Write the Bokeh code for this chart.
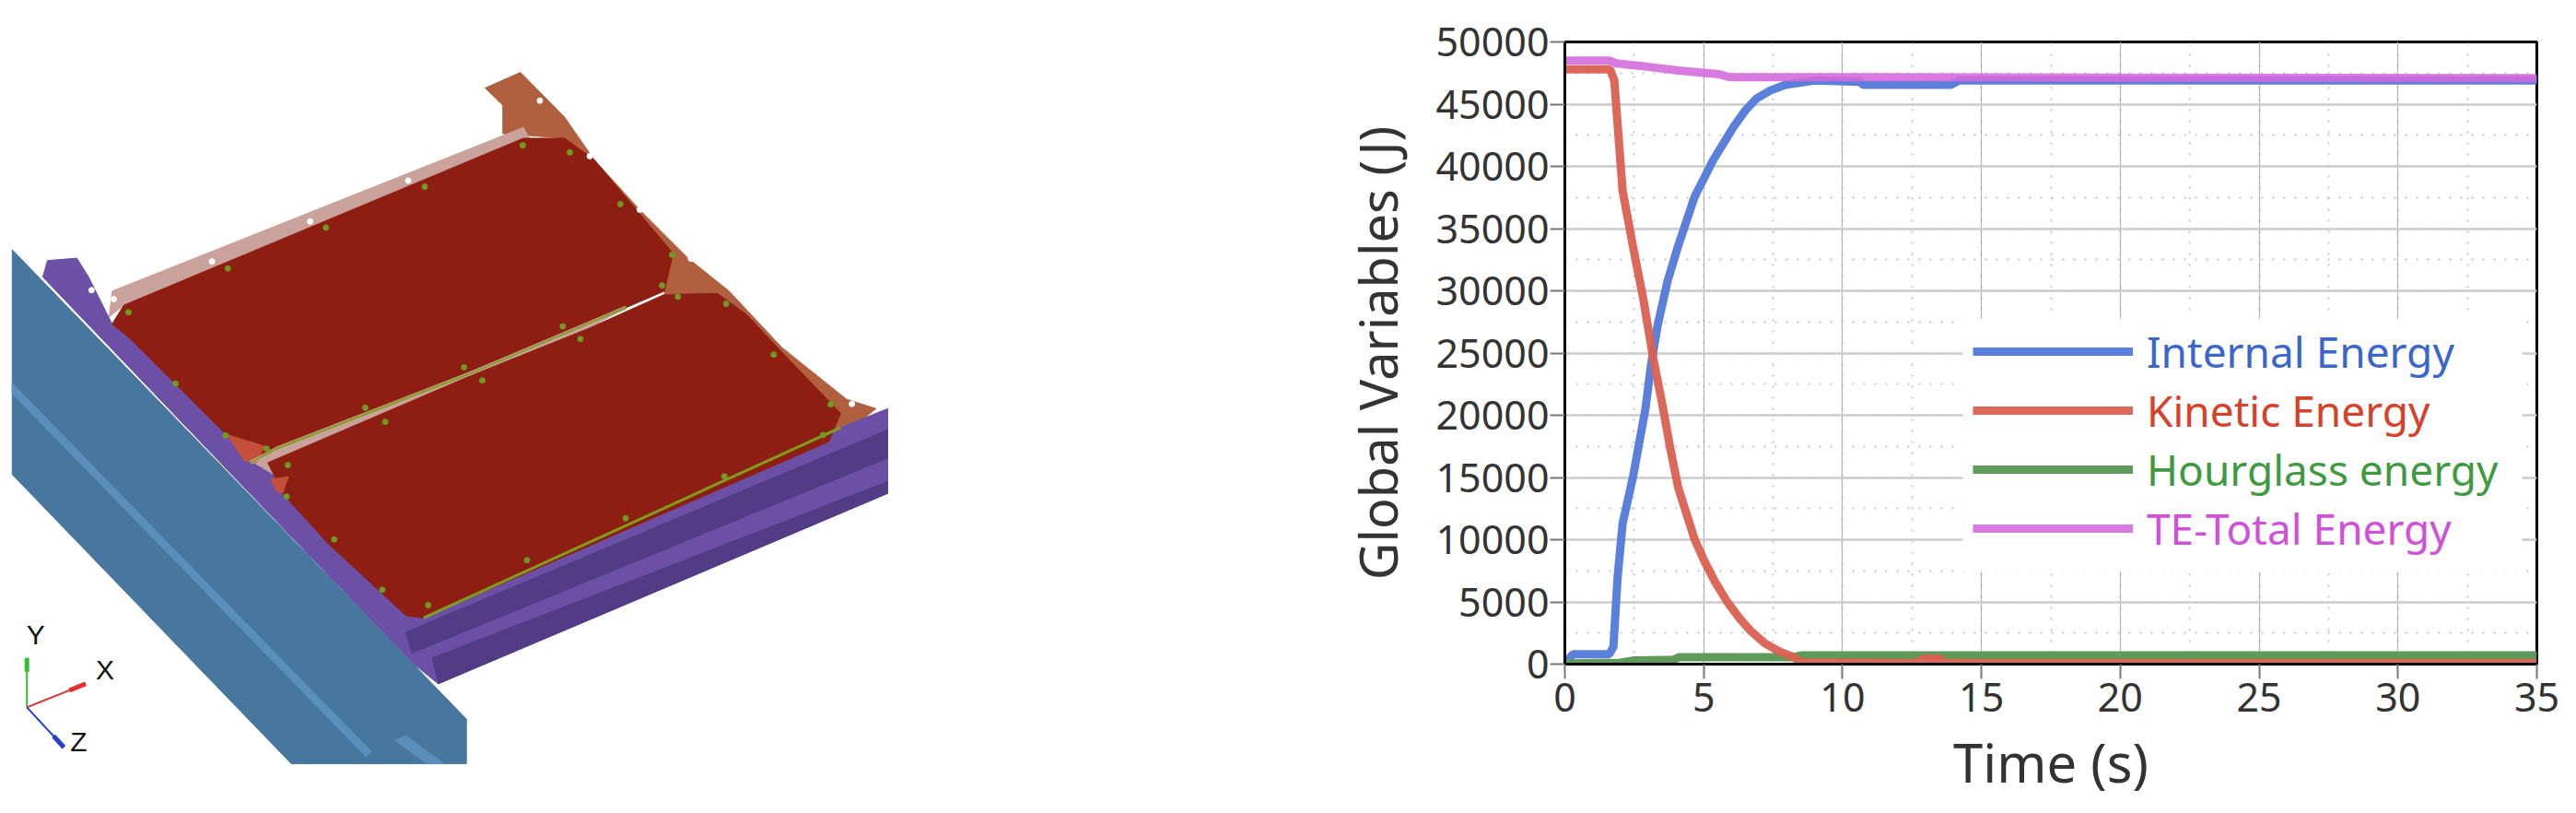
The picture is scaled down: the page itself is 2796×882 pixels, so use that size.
from bokeh.plotting import figure
from bokeh.layouts import row
from bokeh.embed import file_html
from bokeh.resources import INLINE
from bokeh.core.properties import value
from bokeh.models import Legend, LegendItem, SingleIntervalTicker, BoxAnnotation, Range1d

# ---- chart data
internal_t = [0, 0.3, 1.6, 1.75, 1.9, 2.08, 2.45, 2.9, 3.1, 3.34, 3.7, 4.08, 4.67, 5.0, 5.34, 5.7, 6.08, 6.5, 6.9, 7.4, 7.94, 9, 10.6, 10.75, 13.9, 14.2, 35]
internal_e = [100, 800, 800, 1400, 7000, 11300, 15000, 20500, 24000, 27200, 30800, 33600, 37550, 39000, 40500, 41800, 43200, 44500, 45450, 46100, 46550, 46900, 46800, 46550, 46550, 46900, 46900]
kinetic_t = [0, 1.63, 1.78, 2.08, 2.45, 2.82, 3.19, 3.5, 3.8, 4.08, 4.67, 5.0, 5.41, 5.85, 6.3, 6.7, 7.2, 7.7, 8.23, 8.5, 12.7, 12.9, 13.5, 13.7, 35]
kinetic_e = [47800, 47800, 46900, 38050, 33600, 29400, 24500, 21000, 17300, 14200, 10050, 8400, 6600, 5000, 3650, 2650, 1675, 1050, 570, 150, 100, 450, 450, 100, 100]
hourglass_t = [0, 2, 2.5, 3.9, 4.1, 8.2, 8.5, 35]
hourglass_e = [50, 120, 300, 350, 550, 550, 700, 700]
total_t = [0, 1.6, 1.85, 2.9, 4.08, 5.56, 5.93, 35]
total_e = [48500, 48500, 48280, 48030, 47700, 47400, 47170, 47100]
series_names = ["Internal Energy", "Kinetic Energy", "Hourglass energy", "TE-Total Energy"]
line_colors = ["#5b80dc", "#d9604f", "#5f9a5a", "#d468dc"]
text_colors = ["#3a66cc", "#d8402a", "#3f9a3f", "#d050d8"]

# ---- simulation render at left (outline vertices of the picture's parts)
beam = [(20,432),(793,1430),(793,1525),(495,1525),(20,910)]
beam_strip = [(20,716),(632,1500),(622,1510),(20,738)]
beam_strip2 = [(672,1475),(690,1465),(755,1525),(725,1525)]
frame = [(72,490),(80,455),(130,450),(150,490),(190,590),(230,620),(310,720),(390,820),(490,920),(570,1040),(730,1195),(1430,810),(1510,770),(1510,950),(745,1355),(700,1310)]
frame_dark1 = [(690,1245),(1510,815),(1510,875),(700,1290)]
frame_dark2 = [(735,1300),(1510,925),(1510,950),(745,1355)]
brown = [(825,88),(885,55),(960,150),(1010,240),(1090,350),(1170,450),(1240,520),(1330,640),(1440,750),(1490,770),(1430,830),(1270,570),(1220,525),(1130,525),(1140,440),(960,195),(855,185),(855,125)]
pink = [(190,520),(890,172),(900,195),(210,550),(185,575)]
panel_top = [(190,590),(210,550),(890,195),(960,195),(1010,240),(1145,440),(1130,520),(1065,555),(800,690),(470,855),(425,880),(380,820),(300,720),(220,620)]
panel_bottom = [(455,885),(800,700),(1000,600),(1130,527),(1220,525),(1270,570),(1330,650),(1430,780),(1410,840),(720,1215),(690,1210),(630,1140),(560,1060),(480,950),(465,910)]
seam_fill = [(425,880),(800,690),(1065,555),(1000,600),(800,700),(455,885),(465,910)]
hot_a = [(385,825),(450,850),(435,885),(415,880)]
hot_b = [(460,920),(490,915),(480,950),(470,945)]
seam_x = [425, 470, 800, 1065]
seam_y = [885, 855, 695, 555]
edge_x = [720, 1430]
edge_y = [1215, 810]
bolts_x = [218,387,554,722,889,969,1055,1143,1126,957,789,621,453,383,298,489,655,820,987,1153,1235,1316,1413,1400,1232,1064,896,728,487,568,650]
bolts_y = [565,472,385,298,210,225,335,443,508,595,682,768,855,827,717,890,798,710,622,532,547,655,761,826,914,1003,1092,1188,957,1048,1155]
holes_x = [155,193,360,527,694,918,1003,1088,1175,1449]
holes_y = [518,537,457,372,285,115,233,347,451,760]
axis_origin = (45, 1405)
axis_ends = {"Y": (45, 1300, "#30c030"), "X": (145, 1355, "#e03030"), "Z": (108, 1490, "#2040d0")}
axis_labels = {"Y": (60, 1250), "X": (178, 1325), "Z": (133, 1478)}

# ---- left picture
LEFT_W = 1453
LEFT_H = 874
left = figure(width=LEFT_W, height=LEFT_H, output_backend="svg", toolbar_location=None,
              x_axis_location=None, y_axis_location=None, min_border=0, frame_align=False,
              x_range=Range1d(0, LEFT_W*1.568), y_range=Range1d((LEFT_H-50)*1.96, -50*1.96))
left.grid.visible = False
left.outline_line_color = None
for pts, col in [(brown, "#b0603f"), (frame, "#6b50a6"), (frame_dark1, "#523c86"), (frame_dark2, "#523c86"),
                 (pink, "#c9a29c"), (seam_fill, "#c9a29c"), (panel_top, "#8f1e12"), (panel_bottom, "#8f1e12"),
                 (hot_a, "#c4503c"), (hot_b, "#c4503c"),
                 (beam, "#47769f"), (beam_strip, "#5b8fbb"), (beam_strip2, "#5b8fbb")]:
    left.patch([p[0] for p in pts], [p[1] for p in pts], fill_color=col, line_color=col, line_width=1)
left.line(seam_x, seam_y, line_color="#c9a29c", line_width=4)
left.line(seam_x, seam_y, line_color="#7f9f1a", line_width=2)
left.line(edge_x, edge_y, line_color="#7f9f1a", line_width=3)
left.scatter(bolts_x, bolts_y, size=6, color="#6f9a24")
left.scatter(holes_x, holes_y, size=6, color="white")
for k, (ex, ey, col) in axis_ends.items():
    left.line([axis_origin[0], ex], [axis_origin[1], ey], line_color=col, line_width=2)
    left.line([axis_origin[0] + (ex-axis_origin[0])*0.72, ex], [axis_origin[1] + (ey-axis_origin[1])*0.72, ey], line_color=col, line_width=5)
    lx, ly = axis_labels[k]
    left.text([lx], [ly], text=[k], text_font=value("Liberation Sans"), text_font_size="30px",
              text_align="center", text_baseline="middle", text_color="#111111")

# ---- chart
p = figure(frame_width=1055, frame_height=675, output_backend="svg", toolbar_location=None, frame_align=False,
           x_range=Range1d(0, 35), y_range=Range1d(0, 50000),
           min_border_left=150, min_border_right=30, min_border_top=45, min_border_bottom=154,
           x_axis_label="Time (s)", y_axis_label="Global Variables (J)")
p.outline_line_color = "black"
p.outline_line_width = 3
p.background_fill_color = "white"
for ax, step in ((p.xaxis[0], 5), (p.yaxis[0], 5000)):
    ax.ticker = SingleIntervalTicker(interval=step, num_minor_ticks=2)
    ax.major_tick_out = 16
    ax.major_tick_in = 0
    ax.minor_tick_out = 0
    ax.minor_tick_in = 0
    ax.major_tick_line_color = "#777777"
    ax.major_tick_line_width = 2
    ax.axis_line_color = "black"
    ax.axis_line_width = 3
    ax.major_label_text_font = "Noto Sans"
    ax.major_label_text_font_size = "43px"
    ax.major_label_text_color = "#333333"
    ax.axis_label_text_font = "Noto Sans"
    ax.axis_label_text_font_style = "normal"
    ax.axis_label_text_color = "#333333"
p.xaxis[0].axis_label_text_font_size = "58px"
p.yaxis[0].axis_label_text_font_size = "56px"
p.yaxis[0].major_label_standoff = 1
p.xaxis[0].major_label_standoff = 4
p.xaxis[0].axis_label_standoff = 12
p.yaxis[0].axis_label_standoff = 23
p.xgrid.grid_line_color = "#b4b4b4"
p.xgrid.grid_line_width = 1.2
p.ygrid.grid_line_color = "#cccccc"
p.ygrid.grid_line_width = 2.5
p.xgrid.minor_grid_line_color = "#c4c4c4"
p.ygrid.minor_grid_line_color = "#c4c4c4"
p.xgrid.minor_grid_line_width = 2
p.ygrid.minor_grid_line_width = 2
p.xgrid.minor_grid_line_dash = "2 10"
p.ygrid.minor_grid_line_dash = "2 10"

r_int = p.line(internal_t, internal_e, line_color=line_colors[0], line_width=9)
r_hou = p.line(hourglass_t, hourglass_e, line_color=line_colors[2], line_width=9)
r_kin = p.line(kinetic_t, kinetic_e, line_color=line_colors[1], line_width=9, line_alpha=0.95)
r_tot = p.line(total_t, total_e, line_color=line_colors[3], line_width=9, line_alpha=0.88)

p.add_layout(BoxAnnotation(left=14.33, right=34.47, bottom=7400, top=27780, fill_color="white", fill_alpha=1, line_color=None))
for i, r in enumerate([r_int, r_kin, r_hou, r_tot]):
    lg = Legend(items=[LegendItem(label=series_names[i], renderers=[r])],
                location=(443, 308 - 64*i), glyph_width=174, glyph_height=56, label_height=56,
                label_standoff=15, padding=4, margin=0, spacing=0,
                label_text_font="Noto Sans", label_text_font_size="46px",
                label_text_color=text_colors[i], background_fill_alpha=0, border_line_color=None)
    p.add_layout(lg)

page = row(left, p)
open("out.html", "w").write(file_html(page, INLINE))
